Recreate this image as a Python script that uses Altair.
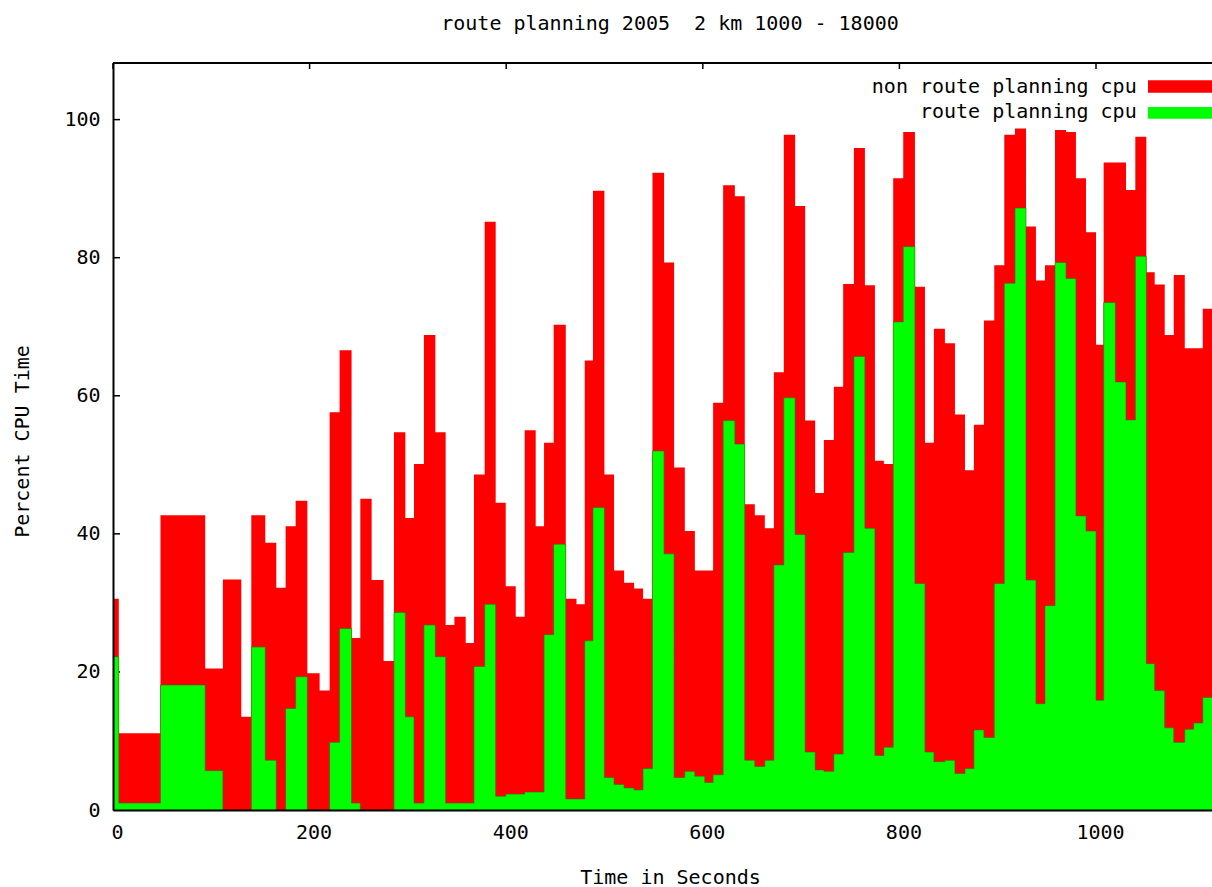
import altair as alt
import pandas as pd

# ---------------- data ----------------
title_text = "route planning 2005\u00a0 2 km 1000 - 18000"
x_title = "Time in Seconds"
y_title = "Percent CPU Time"
series_names = ["non route planning cpu", "route planning cpu"]
series_colors = ["#ff0000", "#00ff00"]

# left edge (seconds) of every step
step_start = [
    0, 5.9, 48.3, 93.8, 111.8, 130.5, 140.7, 154.9, 166.1, 175.6,
    185.8, 197.7, 210.2, 220.4, 230.5, 242.7, 251.6, 263.1, 275.3, 285.8,
    297.4, 306.2, 316.3, 327.9, 338.4, 347.3, 358.8, 367.2, 378.1, 389.3,
    399.5, 409.7, 418.8, 430.0, 438.5, 448.3, 460.6, 471.5, 479.9, 488.3,
    499.9, 509.7, 519.9, 530.1, 539.2, 548.8, 560.6, 570.8, 581.7, 591.9,
    602.0, 610.5, 620.7, 632.6, 642.7, 652.9, 663.1, 672.3, 682.4, 693.9,
    704.1, 714.3, 723.2, 733.3, 742.8, 753.7, 764.9, 775.1, 784.2, 793.7,
    803.9, 815.8, 826.0, 835.1, 846.3, 856.5, 866.7, 875.8, 886.0, 896.5,
    906.7, 917.6, 928.8, 938.9, 948.1, 958.3, 969.5, 979.6, 989.8, 1000.0,
    1007.8, 1019.7, 1030.5, 1040.0, 1051.2, 1059.7, 1069.9, 1079.1, 1090.3, 1099.4,
    1108.6,
]
step_end = 1121.0

# total cpu (top of the red fill)
total_cpu = [
    30.6, 11.1, 42.7, 20.5, 33.4, 13.5, 42.7, 38.7, 32.2, 41.1,
    44.8, 19.8, 17.3, 57.6, 66.6, 24.9, 45.1, 33.3, 21.6, 54.7,
    42.3, 50.1, 68.8, 54.7, 26.8, 28.0, 24.2, 48.6, 85.2, 44.5,
    32.4, 28.0, 55.0, 41.1, 53.2, 70.3, 30.6, 29.8, 65.1, 89.7,
    48.6, 34.7, 32.9, 32.1, 30.6, 92.3, 79.3, 49.6, 40.4, 34.7,
    34.7, 59.0, 90.5, 88.9, 44.3, 42.7, 40.8, 63.4, 97.8, 87.5,
    56.4, 45.9, 53.6, 61.3, 76.2, 95.9, 76.0, 50.6, 50.1, 91.5,
    98.2, 75.8, 53.2, 69.7, 67.6, 57.3, 49.2, 55.8, 70.9, 78.9,
    97.8, 98.7, 84.5, 76.7, 78.9, 98.5, 98.2, 91.5, 83.7, 67.4,
    93.8, 93.8, 89.8, 97.5, 77.9, 76.1, 68.8, 77.5, 66.9, 66.9,
    72.6,
]

# route planning cpu (green fill)
route_cpu = [
    22.2, 1.0, 18.1, 5.7, 0.0, 0.0, 23.6, 7.2, 0.0, 14.7,
    19.3, 0.0, 0.0, 9.8, 26.3, 1.0, 0.0, 0.0, 0.0, 28.6,
    13.5, 1.0, 26.8, 22.2, 1.0, 1.0, 1.0, 20.8, 29.8, 2.0,
    2.3, 2.3, 2.6, 2.6, 25.4, 38.5, 1.6, 1.6, 24.5, 43.8,
    4.7, 3.7, 3.2, 2.9, 6.0, 52.0, 37.1, 4.7, 5.6, 4.9,
    4.0, 5.1, 56.4, 53.0, 7.2, 6.3, 7.2, 35.5, 59.7, 39.9,
    8.4, 5.8, 5.6, 8.1, 37.3, 65.7, 40.8, 7.9, 9.1, 70.7,
    81.6, 32.8, 8.4, 7.0, 7.2, 5.3, 6.0, 11.6, 10.5, 32.8,
    76.3, 87.2, 33.3, 15.4, 29.6, 79.3, 77.0, 42.6, 40.4, 15.9,
    73.5, 62.0, 56.5, 80.2, 21.2, 17.3, 11.9, 9.8, 11.7, 12.6,
    16.3,
]

x_ticks = [0, 200, 400, 600, 800, 1000]
y_ticks = [0, 20, 40, 60, 80, 100]
x_domain = [0, 1118]
y_domain = [0, 108.2]

# ---------------- layout / style ----------------
W, H = 1099, 747
FONT = "DejaVu Sans Mono"
FS = 20

steps = pd.DataFrame({
    "time": step_start + [step_end],
    "total": total_cpu + [total_cpu[-1]],
    "route": route_cpu + [route_cpu[-1]],
})

xs = alt.Scale(domain=x_domain, nice=False, zero=False)
ys = alt.Scale(domain=y_domain, nice=False)

x_axis = alt.Axis(
    values=x_ticks, format="d", grid=False, ticks=False, tickSize=0,
    labelOffset=4, labelPadding=12, labelFont=FONT, labelFontSize=FS,
    labelColor="black", labelFlush=False, labelOverlap=False,
    domainColor="black", domainWidth=2,
    title=x_title, titleFont=FONT, titleFontSize=FS, titleFontWeight="normal",
    titleColor="black", titleX=557, titleY=67, titleBaseline="middle",
    titleAlign="center", zindex=1,
)
y_axis = alt.Axis(
    values=y_ticks, format="d", grid=False, ticks=False, tickSize=0,
    labelPadding=13, labelFont=FONT, labelFontSize=FS, labelColor="black",
    labelFlush=False, labelOverlap=False,
    domainColor="black", domainWidth=2,
    title=y_title, titleFont=FONT, titleFontSize=FS, titleFontWeight="normal",
    titleColor="black", titleX=-91, titleY=378, titleAngle=270,
    titleBaseline="middle", titleAlign="center", zindex=1,
)

# inward tick marks (drawn under the fills, like gnuplot)
ytick_layer = alt.Chart(pd.DataFrame({"v": y_ticks})).mark_rule(
    color="black", strokeWidth=1.5
).encode(y=alt.Y("v:Q", scale=ys, axis=y_axis), x=alt.value(0), x2=alt.value(7))

xtick_layer = alt.Chart(pd.DataFrame({"v": x_ticks})).mark_rule(
    color="black", strokeWidth=1.5
).encode(x=alt.X("v:Q", scale=xs, axis=x_axis), y=alt.value(0), y2=alt.value(6))

red = alt.Chart(steps).mark_area(
    interpolate="step-after", color=series_colors[0], clip=True
).encode(
    x=alt.X("time:Q", scale=xs, axis=x_axis),
    y=alt.Y("total:Q", scale=ys, axis=y_axis),
)

green = alt.Chart(steps).mark_area(
    interpolate="step-after", color=series_colors[1], clip=True
).encode(
    x=alt.X("time:Q", scale=xs, axis=x_axis),
    y=alt.Y("route:Q", scale=ys, axis=y_axis),
)

green_edge = alt.Chart(steps).mark_line(
    interpolate="step-after", color="#4d5a00", strokeWidth=1, opacity=0.55, clip=True
).encode(
    x=alt.X("time:Q", scale=xs, axis=x_axis),
    y=alt.Y("route:Q", scale=ys, axis=y_axis),
)

top_border = alt.Chart(pd.DataFrame({"a": [0]})).mark_rule(
    color="black", strokeWidth=2
).encode(x=alt.value(0), x2=alt.value(W + 10), y=alt.value(0))

# legend (gnuplot style: text then swatch)
legend_text_x = 1023.7
legend_text_y = [29.5, 55]
legend_sw = [(17.3, 29.7), (44.0, 55.7)]
legend_layers = []
for i, name in enumerate(series_names):
    df = pd.DataFrame({"name": [name]})
    legend_layers.append(
        alt.Chart(df).mark_text(
            align="right", baseline="alphabetic", font=FONT, fontSize=FS, color="black"
        ).encode(text="name:N", x=alt.value(legend_text_x), y=alt.value(legend_text_y[i]))
    )
    legend_layers.append(
        alt.Chart(df).mark_rect(color=series_colors[i]).encode(
            x=alt.value(1035), x2=alt.value(W + 10),
            y=alt.value(legend_sw[i][0]), y2=alt.value(legend_sw[i][1]),
        )
    )

title_layer = alt.Chart(pd.DataFrame({"t": [title_text]})).mark_text(
    align="center", baseline="alphabetic", font=FONT, fontSize=FS, color="black"
).encode(text="t:N", x=alt.value(557), y=alt.value(-33))

chart = alt.layer(
    ytick_layer, xtick_layer, red, green, green_edge, top_border,
    *legend_layers, title_layer,
).properties(
    width=W, height=H,
    padding={"left": 113, "top": 63, "right": 0, "bottom": 77},
    autosize=alt.AutoSizeParams(type="none"),
    background="white",
).configure_view(stroke=None)

chart.save("out.html", embed_options={"renderer": "svg", "actions": False})
